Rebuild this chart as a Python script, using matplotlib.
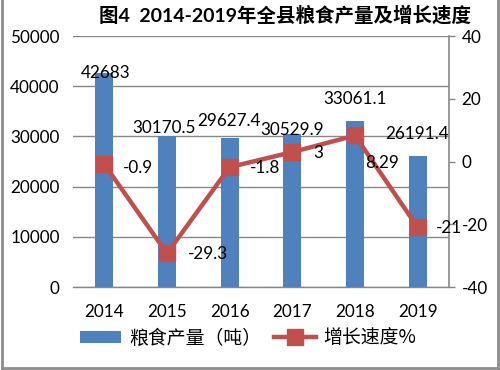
import matplotlib
matplotlib.use("Agg")
import matplotlib.pyplot as plt
from matplotlib.lines import Line2D
from matplotlib.patches import Patch
import numpy as np

plt.rcParams['font.family'] = ['Lato', 'Noto Sans CJK SC', 'DejaVu Sans']

years = ['2014', '2015', '2016', '2017', '2018', '2019']
output_t = [42683, 30170.5, 29627.4, 30529.9, 33061.1, 26191.4]
output_labels = ['42683', '30170.5', '29627.4', '30529.9', '33061.1', '26191.4']
growth = [-0.9, -29.3, -1.8, 3, 8.29, -21]
growth_labels = ['-0.9', '-29.3', '-1.8', '3', '8.29', '-21']
left_ticks = [0, 10000, 20000, 30000, 40000, 50000]
right_ticks = [-40, -20, 0, 20, 40]

title = '图4  2014-2019年全县粮食产量及增长速度'
bar_name = '粮食产量（吨）'
line_name = '增长速度%'

BLUE = '#4F81BD'
RED = '#C0504D'
GRID = '#878787'

fig = plt.figure(figsize=(5, 3.7), dpi=100)
ax = fig.add_axes([0.146, 0.2243, 0.752, 0.6784])
x = np.arange(len(years))

ax.bar(x, output_t, width=0.29, color=BLUE, zorder=2)
ax.set_xlim(-0.5, len(years) - 0.5)
ax.set_ylim(0, 50000)
ax.set_yticks(left_ticks)
ax.set_yticklabels([str(t) for t in left_ticks])
ax.yaxis.grid(True, color=GRID, linewidth=1.0)
ax.set_axisbelow(True)
ax.tick_params(axis='y', length=0, pad=9.5, labelsize=12.3, colors='black')
ax.set_xticks(x)
ax.set_xticklabels(years)
ax.tick_params(axis='x', length=0, pad=12, labelsize=12.3)
for s in ['left', 'top', 'right']:
    ax.spines[s].set_visible(False)
ax.spines['bottom'].set_color(GRID)
ax.spines['bottom'].set_linewidth(1.0)

ax2 = ax.twinx()
ax2.set_ylim(-40, 40)
ax2.set_yticks(right_ticks)
ax2.set_yticklabels([str(t) for t in right_ticks])
for s in ['left', 'top', 'bottom']:
    ax2.spines[s].set_visible(False)
ax2.spines['right'].set_color(GRID)
ax2.spines['right'].set_linewidth(1.2)
ax2.tick_params(axis='y', length=4, width=1.0, color=GRID, pad=5, labelsize=12.3)
ax2.plot(x, growth, color=RED, linewidth=3.2, marker='s', markersize=11,
         markerfacecolor=RED, markeredgecolor=RED, zorder=3)

bar_offsets = [(0.7, 0), (-2, 5.4), (-0.7, 12.5), (0, 2.9), (0, 15.8), (-0.7, 15.8)]
for xi, v, lab, off in zip(x, output_t, output_labels, bar_offsets):
    ax.annotate(lab, xy=(xi, v), xytext=off, textcoords='offset points',
                ha='center', va='center', fontsize=12.3, zorder=5)

line_offsets = [(13.7, -2.9), (15, -0.7), (14.4, -0.7), (15, -0.7), (7.2, -20), (13.2, -0.7)]
for xi, v, lab, off in zip(x, growth, growth_labels, line_offsets):
    ax2.annotate(lab, xy=(xi, v), xytext=off, textcoords='offset points',
                 ha='left', va='center', fontsize=12.3, zorder=5)

fig.text(0.57, 0.959, title, ha='center', va='center', fontsize=14,
         fontweight='bold')

handles = [Patch(facecolor=BLUE, edgecolor='none'),
           Line2D([0], [0], color=RED, linewidth=3.2, marker='s', markersize=11)]
fig.legend(handles, [bar_name, line_name], loc='center',
           bbox_to_anchor=(0.496, 0.0865), ncol=2, frameon=False,
           prop={'family': ['Noto Sans CJK SC', 'DejaVu Sans'], 'size': 13.6},
           handlelength=2.2, handleheight=0.65, handletextpad=0.4,
           columnspacing=0.7)

# figure border
for xs, ys in [([0.004, 0.004], [0.0, 1.0]), ([0.995, 0.995], [0.0, 1.0]),
               ([0.004, 0.995], [0.006, 0.006])]:
    fig.add_artist(Line2D(xs, ys, transform=fig.transFigure, color='#8c8c8c',
                          linewidth=2))

fig.savefig('out.png', dpi=100)
